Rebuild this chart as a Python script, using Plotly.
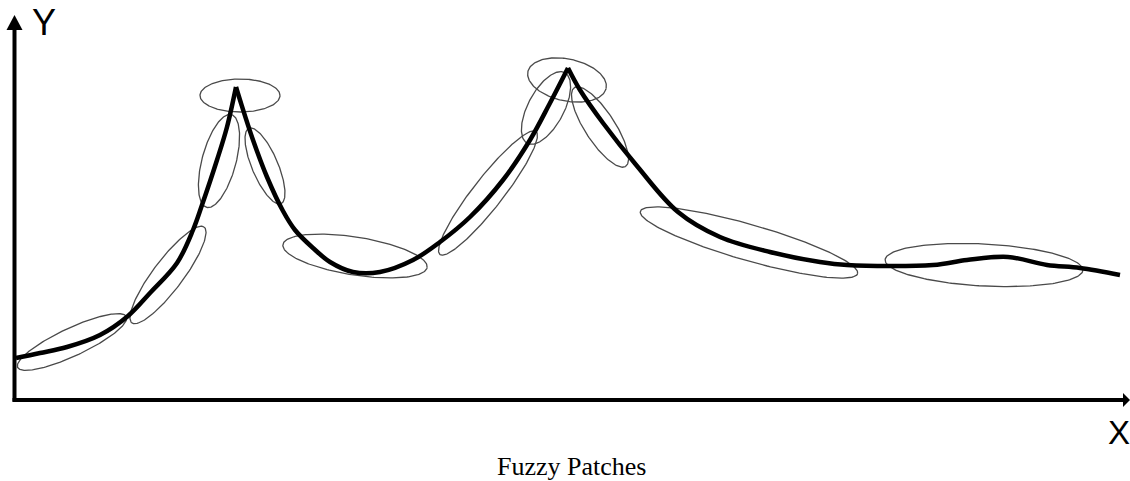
import numpy as np
import plotly.graph_objects as go

# Curve (three segments meeting at sharp peaks)
seg1_x = [2, 26, 53, 86, 114, 136, 163, 179, 188, 203, 213, 222]
seg1_y = [42, 47, 53, 65, 84, 107, 137, 170, 195, 240, 273, 313]
seg2_x = [222, 226, 239, 253, 269, 281, 299, 316, 339, 366, 399, 426, 456, 489, 516, 536, 554]
seg2_y = [313, 300, 260, 223, 189, 170, 152, 138, 128, 128, 140, 158, 183, 220, 260, 297, 332]
seg3_x = [554, 566, 589, 623, 664, 706, 756, 806, 833, 919, 953, 994, 1033, 1066, 1106]
seg3_y = [332, 310, 277, 234, 188, 163, 148, 138, 135, 135, 140, 143, 135, 132, 125]

# Fuzzy patches: center x, center y, semi-major, semi-minor, angle (deg)
patch_cx = [58, 154, 205, 251, 226, 341, 474, 532, 553, 586, 735, 970]
patch_cy = [58, 125, 239, 234, 304.5, 144, 207, 292, 320, 273, 157.5, 135]
patch_a = [60, 60, 48, 41, 40, 73, 78, 40, 40, 47, 113, 99]
patch_b = [14, 15, 17, 13, 16.5, 19, 15, 18, 21, 15, 18, 21]
patch_ang = [25, 53, 75, -67, 0, -9, 52, 62, -12, -57, -16, -3]

fig = go.Figure()

t = np.linspace(0, 2 * np.pi, 200)
for cx, cy, a, b, ang in zip(patch_cx, patch_cy, patch_a, patch_b, patch_ang):
    th = np.deg2rad(ang)
    ex = cx + a * np.cos(t) * np.cos(th) - b * np.sin(t) * np.sin(th)
    ey = cy + a * np.cos(t) * np.sin(th) + b * np.sin(t) * np.cos(th)
    fig.add_trace(go.Scatter(x=ex, y=ey, mode="lines",
                             line=dict(color="#4a4a4a", width=1.3),
                             hoverinfo="skip", showlegend=False))

for sx, sy in [(seg1_x, seg1_y), (seg2_x, seg2_y), (seg3_x, seg3_y)]:
    fig.add_trace(go.Scatter(x=sx, y=sy, mode="lines",
                             line=dict(color="black", width=4.5, shape="spline", smoothing=1.0),
                             hoverinfo="skip", showlegend=False))

# Axes with arrows
fig.add_shape(type="line", x0=0.5, y0=-1.5, x1=0.5, y1=372, line=dict(color="black", width=4))
fig.add_shape(type="path", path="M -7.5 370 L 8.5 370 L 0.5 385 Z", fillcolor="black", line=dict(color="black", width=0))
fig.add_shape(type="line", x0=-1.5, y0=0, x1=1110, y1=0, line=dict(color="black", width=4))
fig.add_shape(type="path", path="M 1109 7 L 1109 -7 L 1116 0 Z", fillcolor="black", line=dict(color="black", width=0))

fig.add_annotation(x=29.5, y=377.5, text="Y", showarrow=False, xanchor="center", yanchor="middle",
                   font=dict(family="Liberation Sans", size=36, color="black"))
fig.add_annotation(x=1105, y=-32, text="X", showarrow=False, xanchor="center", yanchor="middle",
                   font=dict(family="Liberation Sans", size=33, color="black"))
fig.add_annotation(x=557, y=-66, text="Fuzzy Patches", showarrow=False, xanchor="center", yanchor="middle",
                   font=dict(family="Liberation Serif", size=26, color="black"))

fig.update_layout(
    width=1130, height=481,
    margin=dict(l=0, r=0, t=0, b=0),
    paper_bgcolor="white", plot_bgcolor="white",
    xaxis=dict(range=[-14, 1116], visible=False, fixedrange=True),
    yaxis=dict(range=[-81, 400], visible=False, fixedrange=True),
    showlegend=False,
)

fig.write_html(
    "out.html",
    config={"displayModeBar": False},
    post_script="document.body.style.margin='0';document.body.style.overflow='hidden';",
)
